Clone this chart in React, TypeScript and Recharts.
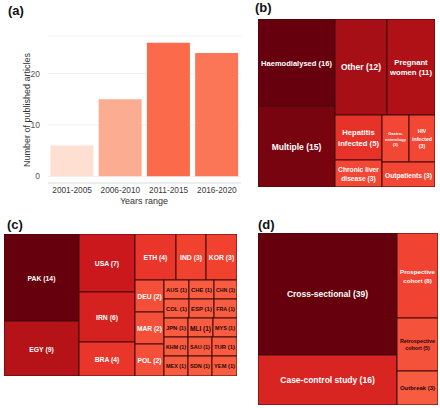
import React from "react";
import { BarChart, Bar, XAxis, YAxis, CartesianGrid, Cell, Treemap } from "recharts";

const FONT = "'Liberation Sans', Arial, Helvetica, sans-serif";

// (a) articles per period
const years = ["2001-2005", "2006-2010", "2011-2015", "2016-2020"];
const articles = [6, 15, 26, 24];

// (b) study populations
const populations = [
  "Haemodialysed",
  "Multiple",
  "Other",
  "Pregnant\nwomen",
  "Hepatitis\ninfected",
  "Chronic liver\ndisease",
  "Gastro-\nenterology",
  "HIV\ninfected",
  "Outpatients",
];
const populationCounts = [16, 15, 12, 11, 5, 3, 3, 3, 3];

// (c) countries
const countries = [
  "PAK", "EGY", "USA", "IRN", "BRA", "ETH", "IND", "KOR", "DEU", "MAR", "POL",
  "AUS", "CHE", "CHN", "COL", "ESP", "FRA", "JPN", "KHM", "MEX", "MLI", "MYS",
  "SAU", "SDN", "TUR", "YEM",
];
const countryCounts = [
  14, 9, 7, 6, 4, 4, 3, 3, 2, 2, 2,
  1, 1, 1, 1, 1, 1, 1, 1, 1, 1, 1, 1, 1, 1, 1,
];

// (d) study designs
const designs = [
  "Cross-sectional",
  "Case-control study",
  "Prospective\ncohort",
  "Retrospective\ncohort",
  "Outbreak",
];
const designCounts = [39, 16, 8, 5, 3];

const BAR_STOPS = ["#FEE0D2", "#FCBBA1", "#FC9272", "#FB6A4A"];
const TREE_STOPS = ["#FB6A4A", "#EF3B2C", "#CB181D", "#A50F15", "#67000D"];

const hexToRgb = (h: string) => [
  parseInt(h.slice(1, 3), 16),
  parseInt(h.slice(3, 5), 16),
  parseInt(h.slice(5, 7), 16),
];

function ramp(stops: string[], t: number) {
  const n = stops.length - 1;
  const x = Math.max(0, Math.min(1, t)) * n;
  const i = Math.min(n - 1, Math.floor(x));
  const f = x - i;
  const a = hexToRgb(stops[i]);
  const b = hexToRgb(stops[i + 1]);
  return `rgb(${a.map((v, k) => Math.round(v + (b[k] - v) * f)).join(",")})`;
}

let ctx: CanvasRenderingContext2D | null = null;
function textWidth(s: string, size: number) {
  if (!ctx) ctx = document.createElement("canvas").getContext("2d");
  if (!ctx) return s.length * size * 0.6;
  ctx.font = `bold ${size}px 'Liberation Sans'`;
  return ctx.measureText(s).width;
}

const makeCell = (maxFont: number, pad: number, maxValue: number) => (props: any) => {
  const { x, y, width, height, depth, name, value } = props;
  if (depth !== 1) return <g />;
  const t = value / maxValue;
  const fill = ramp(TREE_STOPS, t);
  const raw = String(name);
  const lines = raw.split("\n");
  const count = `(${value})`;
  if (raw.includes("\n") && width < 30) lines.push(count);
  else lines[lines.length - 1] += " " + count;
  const availW = width - 2 * pad;
  const availH = height - 2 * pad;
  const emW = Math.max(...lines.map((l) => textWidth(l, 10))) / 10;
  const size = Math.max(3, Math.min(maxFont, availW / emW, availH / (lines.length * 1.35)));
  const lh = size * 1.4;
  const cx = x + width / 2;
  const cy = y + height / 2;
  const color = t < 0.135 ? "#2a0505" : "#ffffff";
  return (
    <g>
      <rect x={x} y={y} width={width} height={height} fill={fill} stroke="#430a0c" strokeWidth={1} />
      <text
        textAnchor="middle"
        dominantBaseline="central"
        fontFamily={FONT}
        fontWeight="bold"
        fontSize={size}
        fill={color}
      >
        {lines.map((l, i) => (
          <tspan key={i} x={cx} y={cy + (i - (lines.length - 1) / 2) * lh}>
            {l}
          </tspan>
        ))}
      </text>
    </g>
  );
};

const barData = years.map((y, i) => ({ years: y, articles: articles[i] }));
const bData = populations.map((n, i) => ({ name: n, size: populationCounts[i] }));
const cData = countries.map((n, i) => ({ name: n, size: countryCounts[i] }));
const dData = designs.map((n, i) => ({ name: n, size: designCounts[i] }));

const minA = Math.min(...articles);
const maxA = Math.max(...articles);

const titleStyle = (left: number, top: number): React.CSSProperties => ({
  position: "absolute",
  left,
  top,
  fontFamily: FONT,
  fontWeight: "bold",
  fontSize: 13,
  lineHeight: "14px",
  color: "#111",
});

export default function App() {
  return (
    <div
      style={{
        position: "absolute",
        left: 0,
        top: 0,
        width: 440,
        height: 408,
        background: "#fff",
        overflow: "hidden",
        fontFamily: FONT,
      }}
    >
      {/* (a) */}
      <div style={{ position: "absolute", left: 0, top: 0 }}>
        <BarChart
          width={246}
          height={210}
          data={barData}
          margin={{ top: 36, right: 5, left: 0, bottom: 0 }}
          barCategoryGap="5%"
        >
          <CartesianGrid vertical={false} stroke="#ececec" strokeWidth={0.8} />
          <XAxis
            dataKey="years"
            height={27}
            interval={0}
            tickLine={false}
            tickSize={0}
            tickMargin={4}
            axisLine={{ stroke: "#e3e3e3" }}
            tick={{ fontSize: 8.3, fill: "#3a3a3a", fontFamily: FONT }}
          />
          <YAxis
            width={48}
            type="number"
            domain={[-1.3, 27.3]}
            ticks={[0, 10, 20]}
            allowDataOverflow
            tickLine={false}
            axisLine={false}
            tickSize={0}
            tickMargin={8}
            tick={{ fontSize: 8.5, fill: "#555", fontFamily: FONT }}
          />
          <Bar dataKey="articles" isAnimationActive={false}>
            {articles.map((v, i) => (
              <Cell key={i} fill={ramp(BAR_STOPS, (v - minA) / (maxA - minA))} />
            ))}
          </Bar>
        </BarChart>
      </div>
      <div
        style={{
          position: "absolute",
          left: 27 - 70,
          top: 110 - 5,
          width: 140,
          height: 10,
          lineHeight: "10px",
          fontSize: 9,
          color: "#333",
          textAlign: "center",
          transform: "rotate(-90deg)",
          transformOrigin: "center",
          whiteSpace: "nowrap",
        }}
      >
        Number of published articles
      </div>
      <div
        style={{
          position: "absolute",
          left: 94,
          top: 196,
          width: 100,
          lineHeight: "10px",
          fontSize: 9,
          color: "#333",
          textAlign: "center",
        }}
      >
        Years range
      </div>
      <div style={titleStyle(8, 4)}>(a)</div>

      {/* (b) */}
      <div style={titleStyle(255, 1)}>(b)</div>
      <div style={{ position: "absolute", left: 258, top: 19 }}>
        <Treemap
          width={177}
          height={168}
          data={bData}
          dataKey="size"
          aspectRatio={1.2}
          isAnimationActive={false}
          content={makeCell(8.5, 3, Math.max(...populationCounts))}
        />
      </div>

      {/* (c) */}
      <div style={titleStyle(7, 218)}>(c)</div>
      <div style={{ position: "absolute", left: 4, top: 234 }}>
        <Treemap
          width={233}
          height={142}
          data={cData}
          dataKey="size"
          aspectRatio={1}
          isAnimationActive={false}
          content={makeCell(6.8, 2, Math.max(...countryCounts))}
        />
      </div>

      {/* (d) */}
      <div style={titleStyle(258, 218)}>(d)</div>
      <div style={{ position: "absolute", left: 258, top: 233 }}>
        <Treemap
          width={180}
          height={172}
          data={dData}
          dataKey="size"
          aspectRatio={1.45}
          isAnimationActive={false}
          content={makeCell(8.5, 3, Math.max(...designCounts))}
        />
      </div>
    </div>
  );
}
